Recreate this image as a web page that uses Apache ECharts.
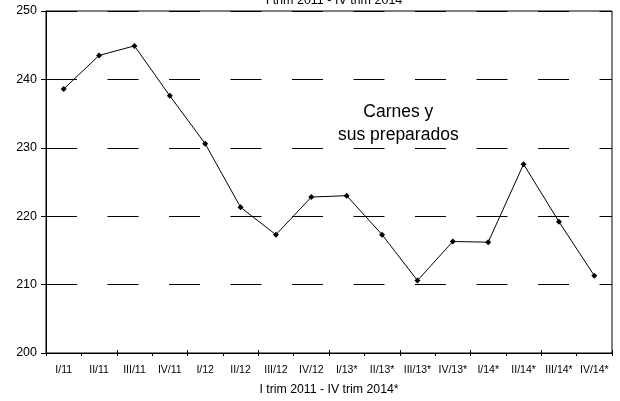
<!DOCTYPE html>
<html>
<head>
<meta charset="utf-8">
<script src="https://cdn.jsdelivr.net/npm/echarts@6/dist/echarts.min.js"></script>
<style>
html,body{margin:0;padding:0;background:#fff;}
#chart{width:620px;height:401px;}
</style>
</head>
<body>
<div id="chart"></div>
<script>
var categories = ['I/11','II/11','III/11','IV/11','I/12','II/12','III/12','IV/12','I/13*','II/13*','III/13*','IV/13*','I/14*','II/14*','III/14*','IV/14*'];
var values = [238.6, 243.5, 244.9, 237.6, 230.6, 221.3, 217.3, 222.8, 223.0, 217.3, 210.6, 216.3, 216.2, 227.6, 219.2, 211.3];
var yTicks = [200, 210, 220, 230, 240, 250];
var titleText = 'I trim 2011 - IV trim 2014';
var xName = 'I trim 2011 - IV trim 2014*';
var seriesName = 'Carnes y\nsus preparados';

var FONT = '"Liberation Sans", Arial, sans-serif';
var chart = echarts.init(document.getElementById('chart'), null, {renderer: 'canvas'});
chart.setOption({
  animation: false,
  backgroundColor: '#fff',
  textStyle: {fontFamily: FONT, color: '#000'},
  title: {
    text: titleText,
    left: 329, top: -11,
    textAlign: 'center',
    textStyle: {fontFamily: FONT, fontSize: 12.5, fontWeight: 'normal', color: '#000'}
  },
  grid: {
    left: 46, right: 8, top: 11, bottom: 48,
    containLabel: false,
    outerBoundsMode: 'none',
    show: true, borderColor: '#000', borderWidth: 1, backgroundColor: 'transparent'
  },
  xAxis: [{
    type: 'category',
    data: categories,
    boundaryGap: true,
    name: xName,
    nameLocation: 'middle',
    nameGap: 31,
    nameTextStyle: {fontFamily: FONT, fontSize: 12.3, color: '#000'},
    axisLine: {lineStyle: {color: '#000', width: 1}},
    axisTick: {show: true, length: 3, lineStyle: {color: '#000'}},
    axisLabel: {fontFamily: FONT, fontSize: 10.5, color: '#000', margin: 12, interval: 0},
    splitLine: {show: false}
  }, {
    type: 'category',
    data: categories,
    boundaryGap: true,
    position: 'bottom',
    axisLine: {show: false},
    axisTick: {show: true, inside: true, length: 3, lineStyle: {color: '#000'}},
    axisLabel: {show: false},
    splitLine: {show: false}
  }],
  yAxis: {
    type: 'value',
    min: yTicks[0], max: yTicks[yTicks.length - 1], interval: 10,
    axisLine: {show: true, lineStyle: {color: '#000', width: 1}},
    axisTick: {show: true, length: 5, lineStyle: {color: '#000'}},
    axisLabel: {fontFamily: FONT, fontSize: 12.5, color: '#000', margin: 9},
    splitLine: {show: true, lineStyle: {color: '#000', width: 1, type: [31, 30.5]}}
  },
  graphic: [{
    type: 'text',
    left: 338, top: 100,
    style: {
      text: seriesName,
      textAlign: 'center',
      fontFamily: FONT, fontSize: 17.5, lineHeight: 23.5,
      fill: '#000'
    }
  }],
  series: [{
    type: 'line',
    data: values,
    symbol: 'diamond',
    symbolSize: 6,
    lineStyle: {color: '#000', width: 1},
    itemStyle: {color: '#000'}
  }]
});
</script>
</body>
</html>
